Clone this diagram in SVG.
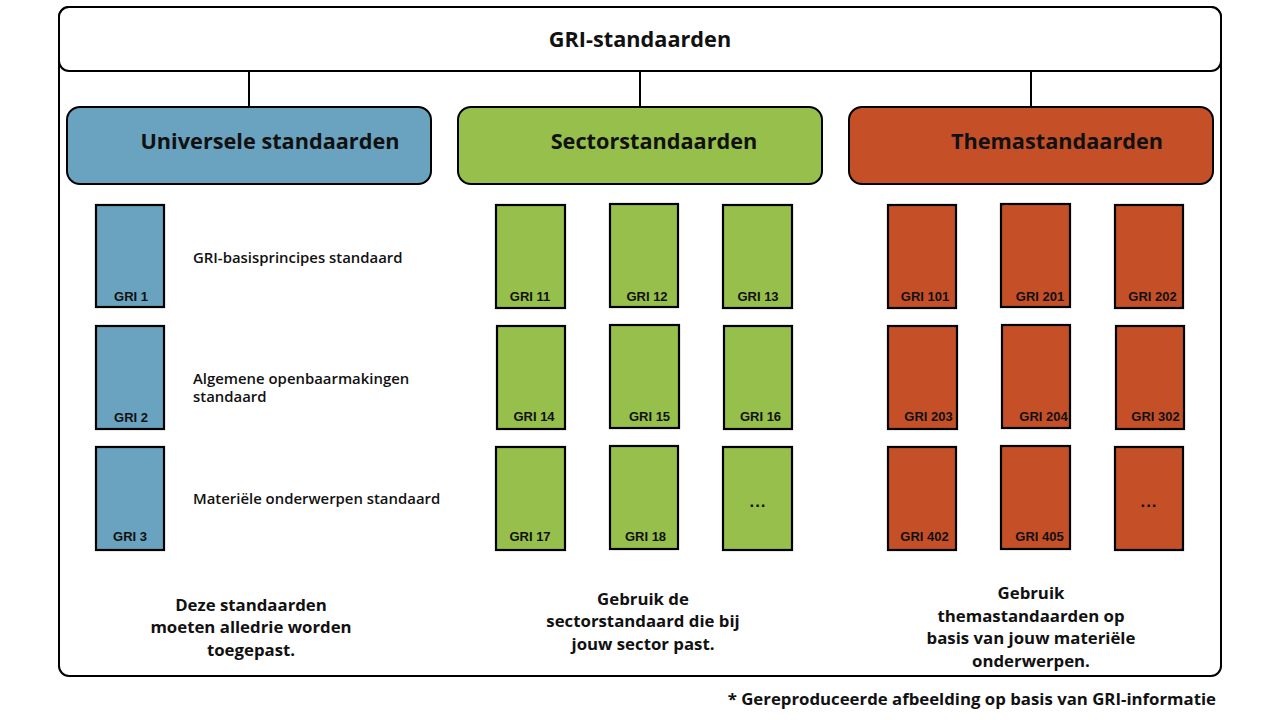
<svg xmlns="http://www.w3.org/2000/svg" width="1280" height="720" viewBox="0 0 1280 720">
<style>
.frame{fill:none;stroke:#000;stroke-width:2}
.head{fill:#fff;stroke:#000;stroke-width:2}
.cat{stroke:#000;stroke-width:2}
.card{stroke:#000;stroke-width:2.2}
.blue{fill:#69a3bf}
.green{fill:#96c04b}
.orange{fill:#c55027}
.conn{stroke:#000;stroke-width:2;fill:none}
.h{font-family:"Open Sans","Liberation Sans",sans-serif;font-weight:700;font-size:21.7px;fill:#111;text-anchor:middle}
.lbl{font-family:"Liberation Sans",Arial,sans-serif;font-weight:700;font-size:13px;fill:#111;text-anchor:middle}
.dots{font-family:"Liberation Sans",Arial,sans-serif;font-weight:700;font-size:17px;fill:#111;text-anchor:middle;letter-spacing:1px}
.side{font-family:"Open Sans","Liberation Sans",sans-serif;font-weight:600;font-size:14.9px;fill:#111}
.note{font-family:"Open Sans","Liberation Sans",sans-serif;font-weight:700;font-size:16.8px;fill:#111;text-anchor:middle}
</style>
<rect width="1280" height="720" fill="#fff"/>
<g id="frame">
<rect class="frame" x="59" y="7" width="1162" height="669" rx="10"/>
</g>
<g id="gri-standaarden">
<rect class="head" x="59" y="7" width="1162" height="64" rx="10"/>
<text class="h" x="640" y="47">GRI-standaarden</text>
</g>
<g id="connectors">
<line class="conn" x1="249" y1="71" x2="249" y2="107"/>
<line class="conn" x1="640" y1="71" x2="640" y2="107"/>
<line class="conn" x1="1031" y1="71" x2="1031" y2="107"/>
</g>
<g id="universele">
<rect class="cat blue" x="67" y="107" width="364" height="77" rx="13"/>
<text class="h" x="270" y="149">Universele standaarden</text>
</g>
<g id="sector">
<rect class="cat green" x="458" y="107" width="364" height="77" rx="13"/>
<text class="h" x="654" y="149">Sectorstandaarden</text>
</g>
<g id="thema">
<rect class="cat orange" x="849" y="107" width="364" height="77" rx="13"/>
<text class="h" x="1057" y="149">Themastandaarden</text>
</g>
<g id="gri1"><rect class="card blue" x="96" y="205" width="68" height="102"/><text class="lbl" x="131" y="300.5">GRI 1</text></g>
<g id="gri2"><rect class="card blue" x="96" y="326" width="68" height="103"/><text class="lbl" x="131" y="422">GRI 2</text></g>
<g id="gri3"><rect class="card blue" x="96" y="447" width="68" height="103"/><text class="lbl" x="130" y="540.5">GRI 3</text></g>
<g id="side-texts">
<text class="side" x="193" y="262.5">GRI-basisprincipes standaard</text>
<text class="side" x="193" y="383.5">Algemene openbaarmakingen</text>
<text class="side" x="193" y="402">standaard</text>
<text class="side" x="193" y="503.5">Materiële onderwerpen standaard</text>
</g>
<g id="gri11"><rect class="card green" x="496" y="205" width="69" height="103"/><text class="lbl" x="530" y="300.5">GRI 11</text></g>
<g id="gri12"><rect class="card green" x="610" y="204" width="68" height="103"/><text class="lbl" x="647" y="300.5">GRI 12</text></g>
<g id="gri13"><rect class="card green" x="723" y="205" width="69" height="103"/><text class="lbl" x="758" y="300.5">GRI 13</text></g>
<g id="gri14"><rect class="card green" x="497" y="326" width="68" height="103"/><text class="lbl" x="534" y="420.5">GRI 14</text></g>
<g id="gri15"><rect class="card green" x="610" y="325" width="69" height="103"/><text class="lbl" x="649.5" y="420.5">GRI 15</text></g>
<g id="gri16"><rect class="card green" x="724" y="326" width="68" height="103"/><text class="lbl" x="760.5" y="420.5">GRI 16</text></g>
<g id="gri17"><rect class="card green" x="496" y="447" width="69" height="103"/><text class="lbl" x="530" y="540.5">GRI 17</text></g>
<g id="gri18"><rect class="card green" x="610" y="446" width="68" height="103"/><text class="lbl" x="645.5" y="540.5">GRI 18</text></g>
<g id="sector-more"><rect class="card green" x="723" y="447" width="69" height="103"/><text class="dots" x="758" y="507">...</text></g>
<g id="gri101"><rect class="card orange" x="888" y="205" width="68" height="103"/><text class="lbl" x="925" y="300.5">GRI 101</text></g>
<g id="gri201"><rect class="card orange" x="1001" y="204" width="69" height="103"/><text class="lbl" x="1040" y="300.5">GRI 201</text></g>
<g id="gri202"><rect class="card orange" x="1115" y="205" width="68" height="103"/><text class="lbl" x="1152.5" y="300.5">GRI 202</text></g>
<g id="gri203"><rect class="card orange" x="888" y="326" width="69" height="103"/><text class="lbl" x="928.5" y="420.5">GRI 203</text></g>
<g id="gri204"><rect class="card orange" x="1002" y="325" width="68" height="103"/><text class="lbl" x="1043.5" y="420.5">GRI 204</text></g>
<g id="gri302"><rect class="card orange" x="1116" y="326" width="68" height="103"/><text class="lbl" x="1155.5" y="420.5">GRI 302</text></g>
<g id="gri402"><rect class="card orange" x="888" y="447" width="68" height="103"/><text class="lbl" x="924.5" y="540.5">GRI 402</text></g>
<g id="gri405"><rect class="card orange" x="1001" y="446" width="69" height="103"/><text class="lbl" x="1039.5" y="540.5">GRI 405</text></g>
<g id="thema-more"><rect class="card orange" x="1115" y="447" width="68" height="103"/><text class="dots" x="1149" y="507">...</text></g>
<g id="note-universele">
<text class="note" x="251" y="610.5">Deze standaarden</text>
<text class="note" x="251" y="633">moeten alledrie worden</text>
<text class="note" x="251" y="655.5">toegepast.</text>
</g>
<g id="note-sector">
<text class="note" x="643" y="604.5">Gebruik de</text>
<text class="note" x="643" y="627">sectorstandaard die bij</text>
<text class="note" x="643" y="649.5">jouw sector past.</text>
</g>
<g id="note-thema">
<text class="note" x="1031" y="599">Gebruik</text>
<text class="note" x="1031" y="621.5">themastandaarden op</text>
<text class="note" x="1031" y="644">basis van jouw materiële</text>
<text class="note" x="1031" y="666.5">onderwerpen.</text>
</g>
<g id="footnote">
<text class="note" x="1216" y="705" style="text-anchor:end">* Gereproduceerde afbeelding op basis van GRI-informatie</text>
</g>
</svg>
